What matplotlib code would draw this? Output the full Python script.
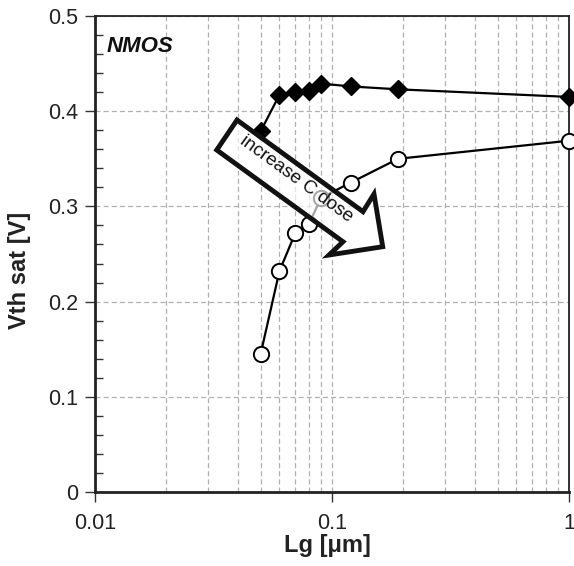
import matplotlib
matplotlib.use("Agg")
import matplotlib.pyplot as plt
from matplotlib.patches import Polygon
from matplotlib.ticker import FixedLocator, FixedFormatter, MultipleLocator, LogLocator, NullFormatter

plt.rcParams['font.family'] = ['Liberation Sans', 'DejaVu Sans']

lg = [0.05, 0.06, 0.07, 0.08, 0.09, 0.12, 0.19, 1.0]
vth_high = [0.379, 0.417, 0.420, 0.421, 0.429, 0.426, 0.423, 0.415]
vth_low = [0.145, 0.232, 0.272, 0.282, 0.309, 0.325, 0.350, 0.369]

xticks = [0.01, 0.1, 1]
xticklabels = ['0.01', '0.1', '1']
yticks = [0, 0.1, 0.2, 0.3, 0.4, 0.5]
yticklabels = ['0', '0.1', '0.2', '0.3', '0.4', '0.5']

fig = plt.figure(figsize=(5.74, 5.66), dpi=100)
ax = fig.add_axes([95/574, 1-492/566, 474/574, 476/566])

ax.set_xscale('log')
ax.set_xlim(0.01, 1)
ax.set_ylim(0, 0.5)

ax.plot(lg, vth_high, '-', color='black', lw=1.6, marker='D', ms=9,
        mfc='black', mec='black', zorder=3, clip_on=False)
ax.plot(lg, vth_low, '-', color='black', lw=1.6, marker='o', ms=11,
        mfc='white', mec='black', mew=1.4, zorder=3, clip_on=False)

ax.xaxis.set_major_locator(FixedLocator(xticks))
ax.xaxis.set_major_formatter(FixedFormatter(xticklabels))
ax.xaxis.set_minor_locator(LogLocator(base=10, subs=range(2, 10)))
ax.xaxis.set_minor_formatter(NullFormatter())
ax.yaxis.set_major_locator(FixedLocator(yticks))
ax.yaxis.set_major_formatter(FixedFormatter(yticklabels))
ax.yaxis.set_minor_locator(MultipleLocator(0.02))

ax.grid(True, which='major', axis='both', color='#b0b0b0', ls=(0, (4, 2.5)), lw=0.9)
ax.grid(True, which='minor', axis='x', color='#b0b0b0', ls=(0, (4, 2.5)), lw=0.9)

ax.tick_params(axis='both', which='major', direction='out', length=7, width=1,
               labelsize=15.5, color='#333333', labelcolor='#222222')
ax.tick_params(axis='x', which='minor', length=0)
ax.tick_params(axis='y', which='minor', direction='in', length=5.5, width=1, color='#333333')
ax.tick_params(axis='x', pad=8)
ax.tick_params(axis='y', pad=5)

for s in ['left', 'bottom']:
    ax.spines[s].set_linewidth(2.0)
    ax.spines[s].set_color('#222222')
for s in ['top', 'right']:
    ax.spines[s].set_linewidth(1.3)
    ax.spines[s].set_color('#222222')

ax.set_xlabel('Lg [\u03bcm]', fontsize=17, fontweight='bold', color='#222222')
ax.set_ylabel('Vth sat [V]', fontsize=17, fontweight='bold', color='#222222')
ax.xaxis.set_label_coords(0.49, -0.088)
ax.yaxis.set_label_coords(-0.135, 0.466)

ax.text(0.025, 0.958, 'NMOS', transform=ax.transAxes, fontsize=16,
        fontweight='bold', fontstyle='italic', ha='left', va='top', color='#111111')

arrow_pts = [(0.2996, 0.7815), (0.5654, 0.5889), (0.5886, 0.6261),
             (0.6070, 0.5153), (0.4937, 0.4979), (0.5232, 0.5258),
             (0.2568, 0.7185)]
poly = Polygon(arrow_pts, closed=True, transform=ax.transAxes,
               facecolor=(1, 1, 1, 0.65), edgecolor='#111111', lw=3.5,
               joinstyle='miter', zorder=5)
ax.add_patch(poly)
ax.text(0.425, 0.657, 'increase C dose', transform=ax.transAxes,
        rotation=-36, rotation_mode='anchor', ha='center', va='center',
        fontsize=13.5, zorder=6, color='#111111')

fig.savefig('out.png', dpi=100)
